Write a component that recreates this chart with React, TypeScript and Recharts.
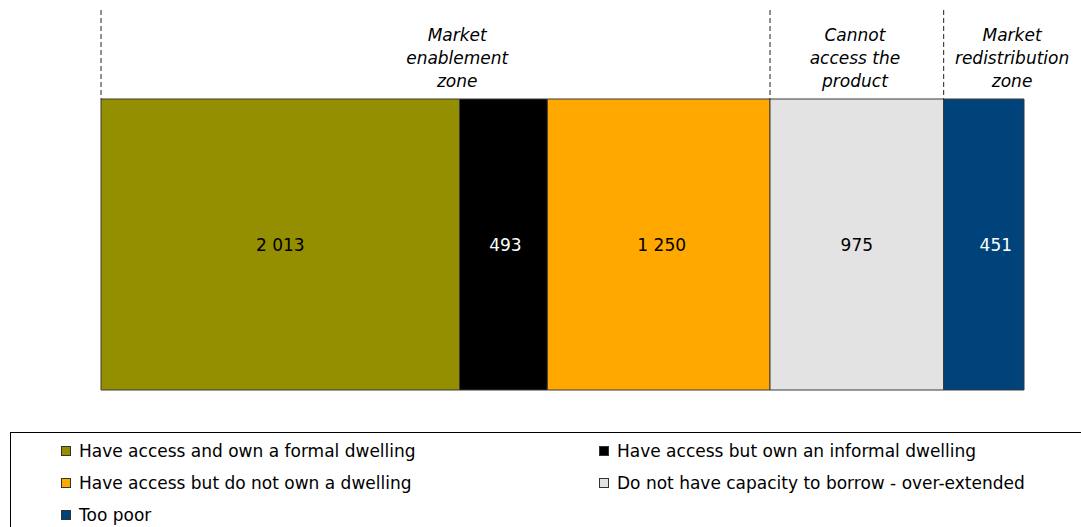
import { BarChart, Bar, XAxis, YAxis, ReferenceLine, LabelList } from 'recharts';

// one stacked row, values in thousands of households
const categories = ['Households'];
const seriesNames = [
    'Have access and own a formal dwelling',
    'Have access but own an informal dwelling',
    'Have access but do not own a dwelling',
    'Do not have capacity to borrow - over-extended',
    'Too poor'
];
const seriesValues = [2013, 493, 1250, 975, 451];
const seriesColors = ['#948F00', '#000000', '#FFA800', '#E3E3E3', '#00427A'];
const labelColors = ['#000000', '#FFFFFF', '#000000', '#000000', '#FFFFFF'];
const labelDx = [0, 2, 3, 0, 12];

// zone boundaries (cumulative values) and zone captions
const zoneBoundaries = [0, 3756, 4731];
const zoneLabels = [
    ['Market', 'enablement', 'zone'],
    ['Cannot', 'access the', 'product'],
    ['Market', 'redistribution', 'zone']
];
const zoneLabelAt = [2000, 4233, 5115];

const total = seriesValues.reduce((a, b) => a + b, 0);
const FONT = '"DejaVu Sans", Verdana, sans-serif';

const App = () => {
    const row: any = { name: categories[0] };
    seriesValues.forEach((v, i) => { row['s' + i] = v; });
    const data = [row];

    const fmt = (v: any) => String(v).replace(/\B(?=(\d{3})+(?!\d))/g, ' ');

    return (
        <div style={{ position: 'absolute', left: 0, top: 0, width: 1081, height: 527, overflow: 'hidden', background: '#fff', fontFamily: FONT }}>
            <BarChart
                width={1081}
                height={400}
                data={data}
                layout="vertical"
                margin={{ top: 99, right: 57, bottom: 10, left: 101 }}
                barCategoryGap={0}
            >
                <XAxis type="number" domain={[0, total]} hide />
                <YAxis type="category" dataKey="name" hide />
                {seriesValues.map((_, i) => (
                    <Bar
                        key={i}
                        dataKey={'s' + i}
                        stackId="a"
                        fill={seriesColors[i]}
                        stroke="#3a3a3a"
                        strokeWidth={1}
                        isAnimationActive={false}
                    >
                        <LabelList
                            dataKey={'s' + i}
                            position="center"
                            formatter={fmt}
                            fill={labelColors[i]}
                            fontSize={17}
                            fontFamily={FONT}
                            dx={labelDx[i]}
                        />
                    </Bar>
                ))}
                {zoneBoundaries.map((b, i) => (
                    <ReferenceLine
                        key={'b' + i}
                        x={b}
                        ifOverflow="visible"
                        shape={(p: any) => (
                            <line
                                x1={p.x1}
                                x2={p.x1}
                                y1={10}
                                y2={Math.min(p.y1, p.y2)}
                                stroke="#222"
                                strokeWidth={1}
                                strokeDasharray="5 3"
                            />
                        )}
                    />
                ))}
                {zoneLabelAt.map((b, i) => (
                    <ReferenceLine
                        key={'z' + i}
                        x={b}
                        ifOverflow="visible"
                        shape={(p: any) => (
                            <text
                                x={p.x1}
                                y={41}
                                textAnchor="middle"
                                fontFamily={FONT}
                                fontStyle="italic"
                                fontSize={17}
                                fill="#000"
                            >
                                {zoneLabels[i].map((t, j) => (
                                    <tspan key={j} x={p.x1} dy={j === 0 ? 0 : 22.8}>{t}</tspan>
                                ))}
                            </text>
                        )}
                    />
                ))}
            </BarChart>
            <div style={{ position: 'absolute', left: 10, top: 432, width: 1090, height: 120, border: '1px solid #000', boxSizing: 'border-box' }}>
                {seriesNames.map((n, i) => (
                    <div
                        key={n}
                        style={{
                            position: 'absolute',
                            left: i % 2 === 0 ? 50 : 588,
                            top: 8 + Math.floor(i / 2) * 32,
                            height: 20,
                            display: 'flex',
                            alignItems: 'center',
                            fontSize: 17,
                            color: '#000',
                            whiteSpace: 'nowrap'
                        }}
                    >
                        <span style={{ display: 'inline-block', boxSizing: 'border-box', width: 10, height: 10, background: seriesColors[i], border: '1px solid #333', marginRight: 8 }} />
                        {n}
                    </div>
                ))}
            </div>
        </div>
    );
};

export default App;
